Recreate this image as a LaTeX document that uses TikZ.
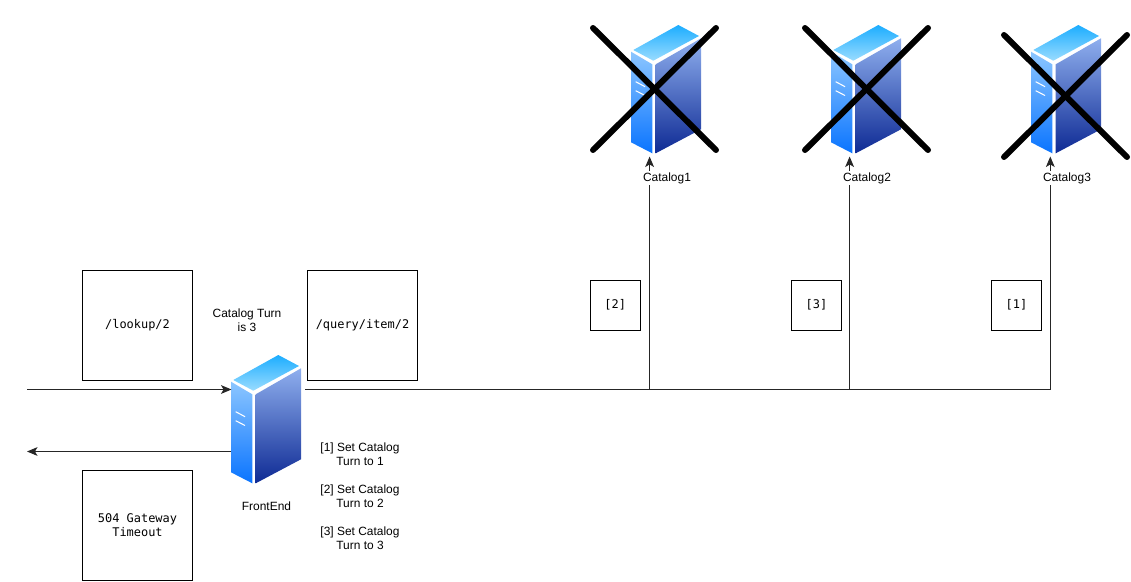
\documentclass[tikz,border=0pt]{standalone}
\usepackage{fontspec}
\setmainfont{Liberation Sans}
\setmonofont{DejaVu Sans Mono}
\usetikzlibrary{arrows.meta}
\tikzset{>={Stealth[length=6pt,width=5pt,inset=1.5pt]}}
\colorlet{penColor}{black!85}
\definecolor{leftTop}{HTML}{8CC6FF}
\definecolor{leftBot}{HTML}{0A74FF}
\definecolor{rightTop}{HTML}{8FAFEE}
\definecolor{rightBot}{HTML}{0E2A94}
\definecolor{topBack}{HTML}{1CADFF}
\definecolor{topFront}{HTML}{9ADCFF}
\tikzset{
  server/.pic={
    \shade [top color=leftTop,bottom color=leftBot] (0,26.7) -- (21.3,39.3) -- (21.3,128.3) -- (0,117.3) -- cycle;
    \shade [top color=rightTop,bottom color=rightBot] (24.7,39.3) -- (70,13.3) -- (70,104.3) -- (24.7,128.3) -- cycle;
    \shade [top color=topBack,bottom color=topFront] (2.3,25) -- (47.3,0) -- (68,11) -- (22.3,35.7) -- cycle;
    \draw [white,line width=.6pt] (4.7,56.7) -- (14,61.7);
    \draw [white,line width=.6pt] (4.7,65.7) -- (14,70.5);
  },
  crossout/.pic={
    \draw [black,line width=3.4pt,line cap=round] (0,0) -- (123,122);
    \draw [black,line width=3.4pt,line cap=round] (123,0) -- (0,122);
  },
  textbox/.style={draw,line width=.55pt,align=center,font=\ttfamily\fontsize{6.8}{7.94}\selectfont,inner sep=0pt},
  bigbox/.style={textbox,minimum width=2.2cm,minimum height=2.2cm},
  smallbox/.style={textbox,minimum width=1cm,minimum height=1cm},
  caption/.style={align=center,font=\fontsize{6.8}{7.94}\selectfont,inner sep=1pt},
  servername/.style={caption,fill=white},
  link/.style={penColor,line width=.55pt}
}

\begin{document}
\begin{tikzpicture}[x=.02cm,y=-.02cm]
  \useasboundingbox (0,0) rectangle (1131,581);

  \pic at (231,355) {server};
  \pic at (631,25) {server};
  \pic at (831,25) {server};
  \pic at (1031,25) {server};

  \pic at (593,28) {crossout};
  \pic at (805,28) {crossout};
  \pic at (1004,35) {crossout};

  \coordinate (clientIn) at (27,389.5);
  \coordinate (frontIn) at (231.5,389.5);
  \coordinate (frontOut) at (305,389.5);
  \coordinate (frontBack) at (231,451.5);
  \coordinate (clientOut) at (27,451.5);
  \coordinate (branch1) at (649.6,389.5);
  \coordinate (branch2) at (849.6,389.5);
  \coordinate (branch3) at (1050.3,389.5);
  \coordinate (tip1) at (649.6,156.5);
  \coordinate (tip2) at (849.6,156.5);
  \coordinate (tip3) at (1050.3,156.5);

  \draw [link,->] (clientIn) -- (frontIn);
  \draw [link,->] (frontBack) -- (clientOut);
  \draw [link] (frontOut) -- (branch1) -- (branch2) -- (branch3);
  \draw [link,->] (branch1) -- (tip1);
  \draw [link,->] (branch2) -- (tip2);
  \draw [link,->] (branch3) -- (tip3);

  \node [bigbox] (lookup) at (137.5,325.5) {/lookup/2};
  \node [bigbox] (query) at (362.5,325.5) {/query/item/2};
  \node [bigbox] (timeout) at (137.5,525.5) {504 Gateway\\Timeout};
  \node [smallbox] (turn2) at (615.2,305) {[2]};
  \node [smallbox] (turn3) at (816.5,305) {[3]};
  \node [smallbox] (turn1) at (1016.5,305) {[1]};

  \node [servername] (catalog1) at (667,178) {Catalog1};
  \node [servername] (catalog2) at (867,178) {Catalog2};
  \node [servername] (catalog3) at (1067,178) {Catalog3};

  \node [caption] (turnis) at (247,320.5) {Catalog Turn\\is 3};
  \node [caption] (frontname) at (266.5,506.5) {FrontEnd};
  \node [caption] (set1) at (360,454) {[1] Set Catalog\\Turn to 1};
  \node [caption] (set2) at (360,496) {[2] Set Catalog\\Turn to 2};
  \node [caption] (set3) at (360,538) {[3] Set Catalog\\Turn to 3};
\end{tikzpicture}
\end{document}
